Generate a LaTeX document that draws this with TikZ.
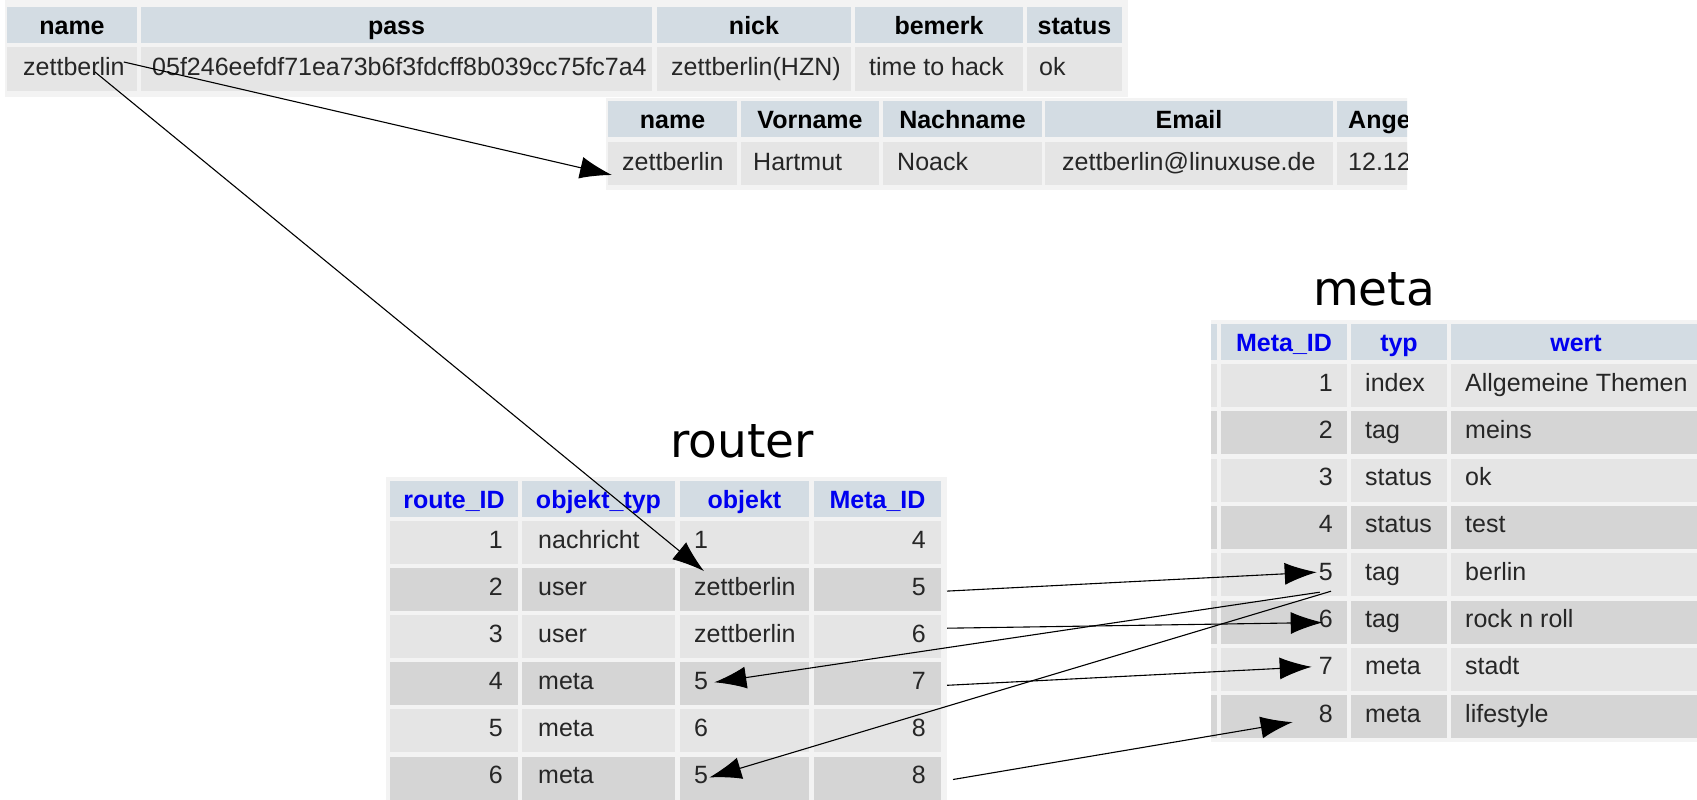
\documentclass[tikz,border=0pt]{standalone}
\usepackage{fontspec}
\setmainfont{Liberation Sans}
\newfontfamily\titlefont{DejaVu Sans}
\usetikzlibrary{arrows.meta,calc}

\definecolor{hdrbg}{HTML}{D3DCE3}
\definecolor{rowodd}{HTML}{E5E5E5}
\definecolor{roweven}{HTML}{D5D5D5}
\definecolor{framebg}{HTML}{F3F3F3}
\definecolor{linkblue}{HTML}{0000F0}
\definecolor{celltext}{HTML}{262626}

\tikzset{
  cell/.style={inner sep=0pt, font=\fontsize{25}{30}\selectfont, text=celltext},
  lcell/.style={cell, anchor=base west},
  rcell/.style={cell, anchor=base east},
  head/.style={inner sep=0pt, anchor=base, font=\fontsize{25}{30}\selectfont\bfseries, text=black},
  bluehead/.style={head, text=linkblue},
  tabletitle/.style={inner sep=0pt, anchor=base, font=\titlefont\fontsize{47}{56}\selectfont, text=black},
  link/.style={-{Latex[length=32pt,width=22pt]}, line width=1.1pt, black},
}

\begin{document}
\begin{tikzpicture}[x=1pt,y=-1pt]
\useasboundingbox (0,0) rectangle (1697,800);

% ---------- user table ----------
\fill[framebg] (5,0) rectangle (1128,97);
\foreach \a/\b in {7/137,141/652,657/851,855/1023,1027/1122}{
  \fill[hdrbg] (\a,7) rectangle (\b,43);
  \fill[rowodd] (\a,47) rectangle (\b,91);
}
\node[head] (u-h1) at (72,35) {name};
\node[head] (u-h2) at (396.5,35) {pass};
\node[head] (u-h3) at (754,35) {nick};
\node[head] (u-h4) at (939,35) {bemerk};
\node[head] (u-h5) at (1074.5,35) {status};
\node[lcell] (u-name) at (23,75) {zettberlin};
\node[lcell] (u-pass) at (152,75) {05f246eefdf71ea73b6f3fdcff8b039cc75fc7a4};
\node[lcell] (u-nick) at (671,75) {zettberlin(HZN)};
\node[lcell] (u-bemerk) at (869,75) {time to hack};
\node[lcell] (u-status) at (1039,75) {ok};

% ---------- profile table (cut at the right) ----------
\begin{scope}
\clip (0,0) rectangle (1407,800);
\fill[framebg] (606,98) rectangle (1420,190);
\foreach \a/\b in {608/737,741/879,883/1042,1045/1333,1337/1420}{
  \fill[hdrbg] (\a,101) rectangle (\b,137);
  \fill[rowodd] (\a,142) rectangle (\b,185);
}
\node[head] (p-h1) at (672.5,128) {name};
\node[head] (p-h2) at (810,128) {Vorname};
\node[head] (p-h3) at (962.5,128) {Nachname};
\node[head] (p-h4) at (1189,128) {Email};
\node[head, anchor=base west] (p-h5) at (1348,128) {Ange};
\node[lcell] (p-name) at (622,170) {zettberlin};
\node[lcell] (p-vorname) at (753,170) {Hartmut};
\node[lcell] (p-nachname) at (897,170) {Noack};
\node[lcell] (p-email) at (1062,170) {zettberlin@linuxuse.de};
\node[lcell] (p-datum) at (1348,170) {12.12};
\end{scope}

% ---------- router table ----------
\node[tabletitle] (r-title) at (742,457) {router};
\fill[framebg] (386,477) rectangle (947,800);
\foreach \a/\b in {390/518,522/675,680/809,814/941}{
  \fill[hdrbg] (\a,481) rectangle (\b,517);
  \foreach \i/\c in {1/rowodd,2/roweven,3/rowodd,4/roweven,5/rowodd,6/roweven}{
    \pgfmathsetmacro\rt{521+47.1*(\i-1)}
    \fill[\c] (\a,\rt) rectangle (\b,\rt+43);
  }
}
\node[bluehead] (r-h1) at (454,508) {route\_ID};
\node[bluehead] (r-h2) at (598.5,508) {objekt\_typ};
\node[bluehead] (r-h3) at (744.5,508) {objekt};
\node[bluehead] (r-h4) at (877.5,508) {Meta\_ID};
\foreach \i/\typ/\obj/\mid in {1/nachricht/1/4,2/user/zettberlin/5,3/user/zettberlin/6,4/meta/5/7,5/meta/6/8,6/meta/5/8}{
  \pgfmathsetmacro\bl{548+47.1*(\i-1)}
  \node[rcell] (r-id\i) at (503,\bl) {\i};
  \node[lcell] (r-typ\i) at (538,\bl) {\typ};
  \node[lcell] (r-obj\i) at (694,\bl) {\obj};
  \node[rcell] (r-meta\i) at (926,\bl) {\mid};
}

% ---------- meta table ----------
\node[tabletitle] (m-title) at (1374,305) {meta};
\fill[framebg] (1211,320) rectangle (1697,742);
\fill[hdrbg] (1211,324) rectangle (1217,360);
\foreach \a/\b in {1221/1347,1351/1447,1451/1697}{
  \fill[hdrbg] (\a,324) rectangle (\b,360);
}
\foreach \a/\b in {1211/1217,1221/1347,1351/1447,1451/1697}{
  \foreach \i/\c in {1/rowodd,2/roweven,3/rowodd,4/roweven,5/rowodd,6/roweven,7/rowodd,8/roweven}{
    \pgfmathsetmacro\rt{364+47.3*(\i-1)}
    \fill[\c] (\a,\rt) rectangle (\b,\rt+43);
  }
}
\node[bluehead] (m-h1) at (1284,351) {Meta\_ID};
\node[bluehead] (m-h2) at (1399,351) {typ};
\node[bluehead] (m-h3) at (1576,351) {wert};
\foreach \i/\typ/\wert in {1/index/Allgemeine Themen,2/tag/meins,3/status/ok,4/status/test,5/tag/berlin,6/tag/rock n roll,7/meta/stadt,8/meta/lifestyle}{
  \pgfmathsetmacro\bl{391+47.3*(\i-1)}
  \node[rcell] (m-id\i) at (1333,\bl) {\i};
  \node[lcell] (m-typ\i) at (1365,\bl) {\typ};
  \node[lcell] (m-wert\i) at (1465,\bl) {\wert};
}

% ---------- references ----------
\draw[link] ($(u-name.base east)+(-1,-13)$) -- ($(p-name.base west)+(-10,5)$);
\draw[link] ($(u-name.base west)+(72,-3)$) -- ($(r-obj2.base west)+(10,-24)$);
\draw[link] ($(r-meta2.base east)+(21,-4)$) -- ($(m-id5.base west)+(-2,-8)$);
\draw[link] ($(r-meta3.base east)+(21,-14)$) -- ($(m-id6.base west)+(4,-5)$);
\draw[link] ($(r-meta4.base east)+(21,-4)$) -- ($(m-id7.base west)+(-7,-8)$);
\draw[link] ($(r-meta6.base east)+(27,-4)$) -- ($(m-id8.base west)+(-26,0)$);
\draw[link] ($(m-id5.base west)+(1,12)$) -- ($(r-obj4.base east)+(6,-7)$);
\draw[link] ($(m-id5.base east)+(-2,11)$) -- ($(r-obj6.base east)+(1,-6)$);
\end{tikzpicture}
\end{document}
